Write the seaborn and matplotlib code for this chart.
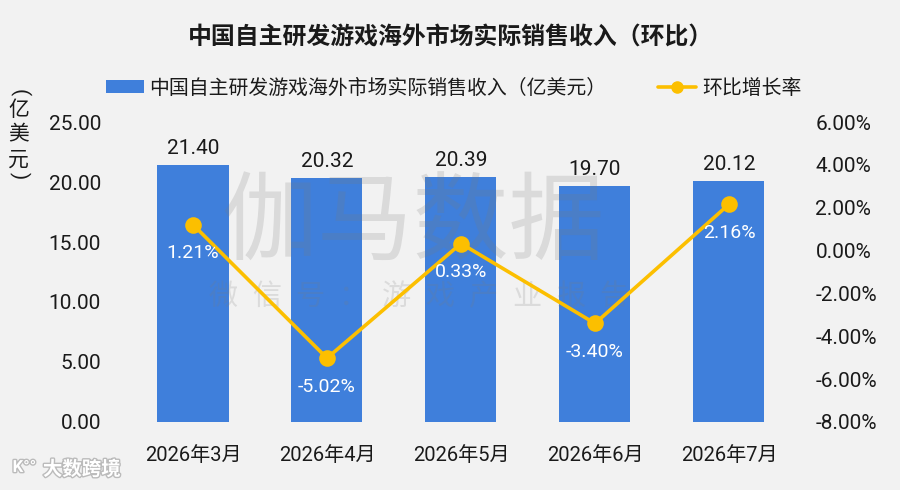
import matplotlib
matplotlib.use("Agg")
import matplotlib.pyplot as plt
import matplotlib.patheffects as pe
from matplotlib.ticker import FuncFormatter
from matplotlib.lines import Line2D
from matplotlib.patches import Patch
import seaborn as sns
import pandas as pd

categories = ["2026年3月", "2026年4月", "2026年5月", "2026年6月", "2026年7月"]
revenue = [21.40, 20.32, 20.39, 19.70, 20.12]
growth_pct = [1.21, -5.02, 0.33, -3.40, 2.16]
left_ticks = [0, 5, 10, 15, 20, 25]
right_ticks = [-8, -6, -4, -2, 0, 2, 4, 6]

title = "中国自主研发游戏海外市场实际销售收入（环比）"
bar_label = "中国自主研发游戏海外市场实际销售收入（亿美元）"
line_label = "环比增长率"
watermark = "伽马数据"
watermark_sub = "微信号：游戏产业报告"

BAR = "#3f7fdb"
LINE = "#fcbf00"
BG = "#f2f2f2"
FONT = ["Roboto", "Noto Sans CJK SC", "DejaVu Sans"]

sns.set_theme(style="white")
plt.rcParams["font.family"] = FONT
plt.rcParams["axes.unicode_minus"] = False

df = pd.DataFrame({"month": categories, "revenue": revenue, "growth": growth_pct})

fig = plt.figure(figsize=(9, 4.9), dpi=100, facecolor=BG)
ax = fig.add_axes([0.14, 0.1388, 0.7444, 0.6122])
ax.set_facecolor(BG)

sns.barplot(data=df, x="month", y="revenue", color=BAR, width=0.53,
            saturation=1, ax=ax, zorder=2, edgecolor="none", linewidth=0)
ax.set_ylim(0, 25)
ax.set_yticks(left_ticks)
ax.yaxis.set_major_formatter(FuncFormatter(lambda v, p: f"{v:.2f}"))
ax.set_xlabel("")
ax.set_ylabel("")
ax.tick_params(axis="y", labelsize=15, length=0, pad=18, colors="#1a1a1a")
ax.tick_params(axis="x", labelsize=14.5, length=0, pad=17, colors="#1a1a1a")
for s in ax.spines.values():
    s.set_visible(False)

for i, v in enumerate(revenue):
    ax.annotate(f"{v:.2f}", (i, v), xytext=(0, 5), textcoords="offset points",
                ha="center", va="bottom", fontsize=15, color="#1a1a1a")

# semi-transparent watermark over the bars
ax.text(0.428, 0.65, watermark, transform=ax.transAxes, ha="center", va="center",
        fontsize=69, color="#7a7a7a", alpha=0.2, zorder=2.5, family=FONT)
for k, ch in enumerate(watermark_sub):
    ax.text((223 - 126) / 670 + k * 43.4 / 670, 0.417, ch, transform=ax.transAxes,
            ha="center", va="center", fontsize=21, color="#7a7a7a", alpha=0.19,
            zorder=2.5, family=FONT)

ax2 = ax.twinx()
sns.pointplot(data=df, x="month", y="growth", color=LINE, markers="o",
              markersize=10, linewidth=2.6, ax=ax2, zorder=3)
ax2.set_ylim(-8, 6)
ax2.set_yticks(right_ticks)
ax2.yaxis.set_major_formatter(FuncFormatter(lambda v, p: f"{v:.2f}%"))
ax2.set_ylabel("")
ax2.tick_params(axis="y", labelsize=15, length=0, pad=14, colors="#1a1a1a")
for s in ax2.spines.values():
    s.set_visible(False)
ax.set_xlim(-0.5, 4.5)

for i, g in enumerate(growth_pct):
    ax2.annotate(f"{g:.2f}%", (i, g), xytext=(0, -14), textcoords="offset points",
                 ha="center", va="top", fontsize=14, color="white", zorder=5)

fig.text(0.5, 0.925, title, ha="center", va="center", fontsize=17.2,
         fontweight="bold", color="#1a1a1a")

handles = [Patch(facecolor=BAR, edgecolor="none"),
           Line2D([0], [0], color=LINE, lw=2.6, marker="o", markersize=8)]
fig.legend(handles, [bar_label, line_label], loc="center", ncol=2,
           bbox_to_anchor=(0.504, 0.82), frameon=False, fontsize=14.3,
           handlelength=1.9, handleheight=0.6, handletextpad=0.3,
           columnspacing=2.6, labelcolor="#1a1a1a")

# vertical y-axis label: rotated brackets, upright characters
ylab_x = 0.021
fig.text(ylab_x, 0.812, "(", ha="center", va="center", fontsize=15,
         rotation=-90, color="#1a1a1a")
for k, ch in enumerate("亿美元"):
    fig.text(ylab_x, 0.776 - k * 0.051, ch, ha="center", va="center",
             fontsize=15, color="#1a1a1a")
fig.text(ylab_x, 0.642, ")", ha="center", va="center", fontsize=15,
         rotation=-90, color="#1a1a1a")

fig.text(0.091, 0.042, "大数跨境", ha="center", va="center", fontsize=14,
         color="white", fontweight="bold",
         path_effects=[pe.withStroke(linewidth=2, foreground="#bbbbbb")])
fig.text(0.027, 0.046, "K°°", ha="center", va="center", fontsize=12,
         color="white", fontweight="bold",
         path_effects=[pe.withStroke(linewidth=2, foreground="#bbbbbb")])

fig.savefig("out.png", dpi=100, facecolor=BG)
